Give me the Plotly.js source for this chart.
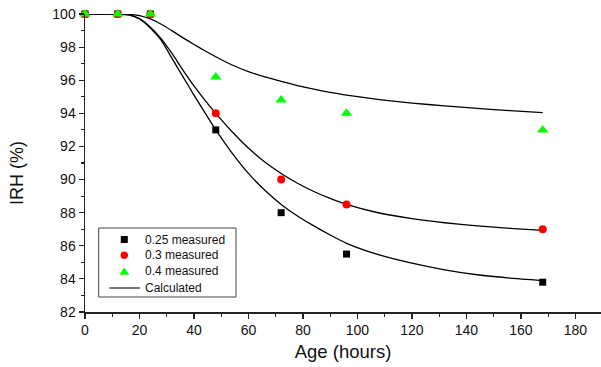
<!DOCTYPE html>
<html>
<head>
<meta charset="utf-8">
<script src="https://cdn.plot.ly/plotly-3.0.1.min.js"></script>
<style>
  html, body { margin: 0; padding: 0; background: #fff; }
  #chart { width: 601px; height: 367px; }
</style>
</head>
<body>
<div id="chart"></div>
<script>
// Measured internal relative humidity (IRH, %) against age in hours
const ageMeasured = [0, 12, 24, 48, 72, 96, 168];
const irh025 = [100, 100, 100, 93.0, 88.0, 85.5, 83.8];
const irh03  = [100, 100, 100, 94.0, 90.0, 88.5, 87.0];
const irh04  = [100, 100, 100, 96.2, 94.8, 94.0, 93.0];

// Calculated curves
const ageCalc = [0, 12, 16, 20, 24, 28, 32, 36, 40, 44, 48, 54, 60, 66, 72, 78, 84, 90, 96, 108, 120, 132, 144, 156, 168];
const calc025 = [100, 100, 99.95, 99.7, 99.15, 98.4, 97.3, 96.2, 95.1, 94.04, 93.0, 91.6, 90.37, 89.35, 88.5, 87.8, 87.2, 86.65, 86.15, 85.45, 84.95, 84.55, 84.25, 84.05, 83.9];
const calc03  = [100, 100, 99.96, 99.72, 99.2, 98.5, 97.6, 96.6, 95.66, 94.8, 94.0, 92.89, 91.9, 91.06, 90.37, 89.78, 89.28, 88.86, 88.5, 87.98, 87.64, 87.39, 87.2, 87.05, 86.93];
const calc04  = [100, 100, 99.98, 99.9, 99.7, 99.38, 98.98, 98.56, 98.16, 97.78, 97.42, 96.92, 96.52, 96.2, 95.93, 95.68, 95.46, 95.27, 95.1, 94.83, 94.62, 94.45, 94.3, 94.16, 94.04];

const xTicks = [0, 20, 40, 60, 80, 100, 120, 140, 160, 180];
const yTicks = [82, 84, 86, 88, 90, 92, 94, 96, 98, 100];

// Legend entries, drawn as a framed key inside the plot
const legendLabels = ['0.25 measured', '0.3 measured', '0.4 measured', 'Calculated'];

const FONT = 'Liberation Sans, Arial, sans-serif';

// plot-area geometry in pixels (used only to place the key)
const W = 601, H = 367, ML = 85, MR = 0, MT = 14, MB = 55;
const PW = W - ML - MR, PH = H - MT - MB;
const px = v => (v - ML) / PW;          // pixel x -> paper x
const py = v => (H - MB - v) / PH;      // pixel y -> paper y

function calcTrace(y) {
  return {
    x: ageCalc, y: y, type: 'scatter', mode: 'lines',
    name: 'Calculated', showlegend: false,
    line: { color: '#000', width: 1.3, shape: 'spline', smoothing: 0.6 },
    cliponaxis: false, hoverinfo: 'skip'
  };
}

function measTrace(y, name, symbol, color, size) {
  return {
    x: ageMeasured, y: y, type: 'scatter', mode: 'markers',
    name: name, showlegend: false,
    marker: { symbol: symbol, color: color, size: size, line: { width: 0 } },
    cliponaxis: false
  };
}

const data = [
  calcTrace(calc025),
  calcTrace(calc03),
  calcTrace(calc04),
  measTrace(irh025, legendLabels[0], 'square', '#000000', 7),
  measTrace(irh03, legendLabels[1], 'circle', '#ff0000', 8),
  measTrace(irh04, legendLabels[2], 'triangle-up', '#00ff00', 10)
];

// key: frame, symbols and labels
const keyLeft = 98.7, keyRight = 236, keyTop = 228, keyBottom = 297;
const rowY = [239.5, 255.3, 271.3, 288];
const symX = 124.3;

const shapes = [
  { type: 'rect', xref: 'paper', yref: 'paper',
    x0: px(keyLeft), x1: px(keyRight), y0: py(keyBottom), y1: py(keyTop),
    line: { color: '#444', width: 1 }, fillcolor: '#fff', layer: 'above' },
  { type: 'rect', xref: 'paper', yref: 'paper', xsizemode: 'pixel', ysizemode: 'pixel',
    xanchor: px(symX), yanchor: py(rowY[0]), x0: -3.5, x1: 3.5, y0: -3.5, y1: 3.5,
    fillcolor: '#000', line: { width: 0 }, layer: 'above' },
  { type: 'circle', xref: 'paper', yref: 'paper', xsizemode: 'pixel', ysizemode: 'pixel',
    xanchor: px(symX), yanchor: py(rowY[1]), x0: -3.7, x1: 3.7, y0: -3.7, y1: 3.7,
    fillcolor: '#ff0000', line: { width: 0 }, layer: 'above' },
  { type: 'path', xref: 'paper', yref: 'paper', xsizemode: 'pixel', ysizemode: 'pixel',
    xanchor: px(symX), yanchor: py(rowY[2]),
    path: 'M-5,-3.4 L5,-3.4 L0,3.8 Z',
    fillcolor: '#00ff00', line: { width: 0 }, layer: 'above' },
  { type: 'line', xref: 'paper', yref: 'paper',
    x0: px(109.3), x1: px(140), y0: py(rowY[3]), y1: py(rowY[3]),
    line: { color: '#555', width: 1.6 }, layer: 'above' }
];

const annotations = legendLabels.map((t, i) => ({
  text: t, xref: 'paper', yref: 'paper',
  x: px(143), y: py(rowY[i]), xanchor: 'left', yanchor: 'middle',
  showarrow: false, font: { family: FONT, size: 12, color: '#111' }
}));

// y-axis title
annotations.push({
  text: 'IRH (%)', xref: 'paper', yref: 'paper',
  x: px(17), y: py(173), xanchor: 'center', yanchor: 'middle', textangle: -90,
  showarrow: false, font: { family: FONT, size: 18, color: '#111' }
});

const axisCommon = {
  showline: true, linecolor: '#222', linewidth: 1.5,
  ticks: 'outside', ticklen: 5, tickwidth: 1.2, tickcolor: '#222',
  showgrid: false, zeroline: false, mirror: false,
  tickfont: { family: FONT, size: 14, color: '#111' },
  minor: { ticks: 'outside', ticklen: 3, tickwidth: 1.2, tickcolor: '#222', showgrid: false }
};

const layout = {
  width: W, height: H,
  margin: { l: ML, r: MR, t: MT, b: MB },
  paper_bgcolor: '#fff', plot_bgcolor: '#fff',
  showlegend: false,
  xaxis: Object.assign({}, axisCommon, {
    range: [0, 189.4], tickvals: xTicks, ticktext: xTicks.map(String),
    minor: Object.assign({}, axisCommon.minor, { dtick: 10, tick0: 0 }),
    title: { text: 'Age (hours)', font: { family: FONT, size: 18.5, color: '#111' }, standoff: 8 }
  }),
  yaxis: Object.assign({}, axisCommon, {
    range: [82, 100], tickvals: yTicks, ticktext: yTicks.map(String),
    minor: Object.assign({}, axisCommon.minor, { dtick: 1, tick0: 82 })
  }),
  shapes: shapes,
  annotations: annotations
};

Plotly.newPlot('chart', data, layout, { staticPlot: true, displayModeBar: false });
</script>
</body>
</html>
